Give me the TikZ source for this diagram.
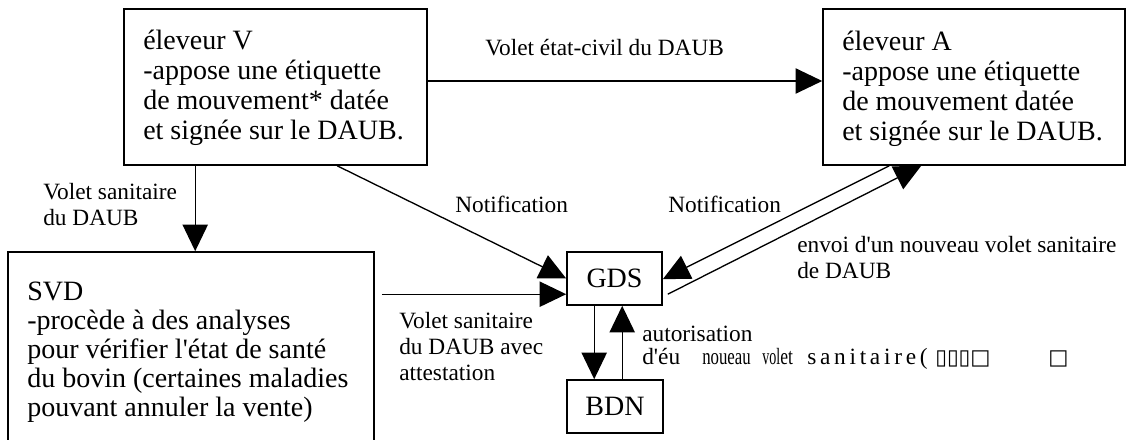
\documentclass[tikz,border=0pt]{standalone}
\usepackage{fontspec}
\setmainfont{Liberation Serif}
\newfontfamily\dejavu{DejaVu Sans}
\usetikzlibrary{arrows.meta}
\newcommand{\sq}{\textquotesingle}
\begin{document}
\begin{tikzpicture}[x=0.75pt,y=-0.75pt,
  box/.style={draw, line width=1.2pt, inner sep=0pt},
  boxtxt/.style={inner sep=0pt, anchor=base west, font=\fontsize{21}{22.5}\selectfont},
  lbl/.style={inner sep=0pt, anchor=base west, font=\fontsize{17.5}{19.5}\selectfont},
  arr/.style={line width=1pt, -{Triangle[length=20pt,width=19pt]}}]
\useasboundingbox (0,0) rectangle (1134,439);

% boxes
\node[box, minimum width=227.25pt, minimum height=117pt] (V) at (275.5,87) {};
\node[box, minimum width=226.5pt, minimum height=117pt] (A) at (974,87) {};
\node[box, minimum width=274.5pt, minimum height=144.75pt] (SVD) at (191,348.5) {};
\node[box, minimum width=71.25pt, minimum height=39.75pt, font=\fontsize{21}{22.5}\selectfont] (GDS) at (614.5,278.5) {GDS};
\node[box, minimum width=72pt, minimum height=39.75pt, font=\fontsize{21}{22.5}\selectfont] (BDN) at (615,406.5) {BDN};

% box texts
\node[boxtxt] (Vt) at (143,49) {\begin{tabular}[t]{@{}l@{}}éleveur V\\-appose une étiquette\\de mouvement* datée\\et signée sur le DAUB.\end{tabular}};
\node[boxtxt] (At) at (842,50) {\begin{tabular}[t]{@{}l@{}}éleveur A\\-appose une étiquette\\de mouvement datée\\et signée sur le DAUB.\end{tabular}};
\node[boxtxt, font=\fontsize{21}{21.75}\selectfont] (St) at (27,300) {\begin{tabular}[t]{@{}l@{}}SVD\\-procède à des analyses\\pour vérifier l\sq état de santé\\du bovin (certaines maladies\\pouvant annuler la vente)\end{tabular}};

% connectors
\draw[arr] ([yshift=4.5pt]V.east) -- ([yshift=4.5pt]A.west);
\draw[arr] ([xshift=54pt]V.south west) -- ([xshift=141pt]SVD.north west);
\draw[arr] ([xshift=160.5pt]V.south west) -- (GDS.west);
\draw[arr] ([xshift=5.25pt,yshift=-32.25pt]SVD.north east) -- ([yshift=-32.25pt]GDS.north west);
\draw[arr] ([xshift=21pt]GDS.south west) -- ([xshift=21pt]BDN.north west);
\draw[arr] ([xshift=42pt]BDN.north west) -- ([xshift=42pt]GDS.south west);
\draw[arr] ([xshift=50.25pt]A.south west) -- ([yshift=-21pt]GDS.north east);
\draw[arr] ([xshift=3.75pt,yshift=-32.25pt]GDS.north east) -- ([xshift=74.25pt]A.south west);

% labels
\node[lbl] (l1) at (485,55) {Volet état-civil du DAUB};
\node[lbl] (l2) at (43,199) {\begin{tabular}[t]{@{}l@{}}Volet sanitaire\\du DAUB\end{tabular}};
\node[lbl] (l3) at (455,212) {Notification};
\node[lbl] (l4) at (668,212) {Notification};
\node[lbl] (l5) at (797,252) {\begin{tabular}[t]{@{}l@{}}envoi d\sq un nouveau volet sanitaire\\de DAUB\end{tabular}};
\node[lbl] (l6) at (399,328) {\begin{tabular}[t]{@{}l@{}}Volet sanitaire\\du DAUB avec\\attestation\end{tabular}};
\node[lbl, font=\fontsize{17.5}{17.25}\selectfont] (l7) at (642,341) {\begin{tabular}[t]{@{}l@{}}autorisation\\\rlap{d\sq éu}\rlap{\hspace*{45pt}\scalebox{0.72}[1]{noueau}}\rlap{\hspace*{90pt}\scalebox{0.6}[1]{vol}}\rlap{\hspace*{103.5pt}\scalebox{0.75}[1]{et}}\rlap{\hspace*{123.75pt}{\addfontfeature{LetterSpace=16}sanitaire(}}\rlap{\hspace*{219.75pt}{\dejavu\fontsize{16}{16}\selectfont ▯▯▯□}}\rlap{\hspace*{304.5pt}{\dejavu\fontsize{16}{16}\selectfont □}}\end{tabular}};
\end{tikzpicture}
\end{document}
